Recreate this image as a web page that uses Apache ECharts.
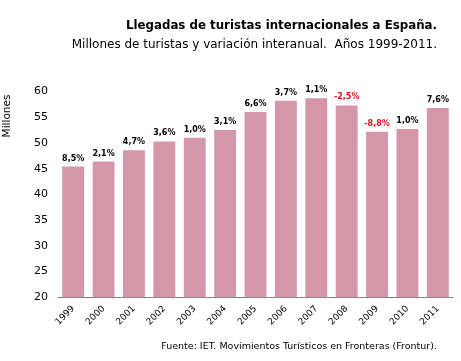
<!DOCTYPE html>
<html><head><meta charset="utf-8">
<script src="https://cdn.jsdelivr.net/npm/echarts@6/dist/echarts.min.js"></script>
<style>html,body{margin:0;padding:0;background:#fff}#c{width:461px;height:361px}</style>
</head><body><div id="c"></div>
<script>
const years = ['1999','2000','2001','2002','2003','2004','2005','2006','2007','2008','2009','2010','2011'];
const tourists = [45.4, 46.4, 48.6, 50.3, 51.0, 52.5, 56.0, 58.2, 58.7, 57.3, 52.2, 52.7, 56.8];
const variation = ['8,5%','2,1%','4,7%','3,6%','1,0%','3,1%','6,6%','3,7%','1,1%','-2,5%','-8,8%','1,0%','7,6%'];
const yTicks = [20, 25, 30, 35, 40, 45, 50, 55, 60];

const font = 'DejaVu Sans, Verdana, sans-serif';
const chart = echarts.init(document.getElementById('c'));
chart.setOption({
  animation: false,
  backgroundColor: '#fff',
  title: [
    {text: 'Llegadas de turistas internacionales a España.', right: 19, top: 15,
     textStyle: {fontFamily: font, fontSize: 11.8, fontWeight: 'bold', color: '#000'}},
    {text: 'Millones de turistas y variación interanual.  Años 1999-2011.', right: 19, top: 34,
     textStyle: {fontFamily: font, fontSize: 12, fontWeight: 'normal', color: '#000'}},
    {text: 'Fuente: IET. Movimientos Turísticos en Fronteras (Frontur).', right: 19, top: 337,
     textStyle: {fontFamily: font, fontSize: 9.5, fontWeight: 'normal', color: '#000'}}
  ],
  graphic: [{
    type: 'text', x: 2, y: 116, rotation: Math.PI / 2,
    style: {text: 'Millones', fontFamily: font, fontSize: 10.5, fill: '#000',
      align: 'center', verticalAlign: 'top'}
  }],
  grid: {left: 58, right: 8, top: 91.5, bottom: 63.7, containLabel: false},
  xAxis: {
    type: 'category', data: years,
    axisLine: {lineStyle: {color: '#808080', width: 1}},
    axisTick: {show: false},
    axisLabel: {rotate: 45, fontFamily: font, fontSize: 9, color: '#000', margin: 10}
  },
  yAxis: {
    type: 'value', min: yTicks[0], max: yTicks[yTicks.length-1], interval: 5,
    splitLine: {show: false},
    axisLine: {show: false}, axisTick: {show: false},
    axisLabel: {fontFamily: font, fontSize: 11, color: '#000', margin: 10}
  },
  series: [{
    type: 'bar', barCategoryGap: '28%',
    itemStyle: {color: '#d596a9'},
    data: tourists.map((v, i) => ({
      value: v,
      label: {show: true, position: 'top', distance: 4,
        formatter: variation[i],
        fontFamily: font, fontSize: 8, fontWeight: 'bold',
        color: variation[i].startsWith('-') ? '#e8101a' : '#000'}
    }))
  }]
});
</script></body></html>
